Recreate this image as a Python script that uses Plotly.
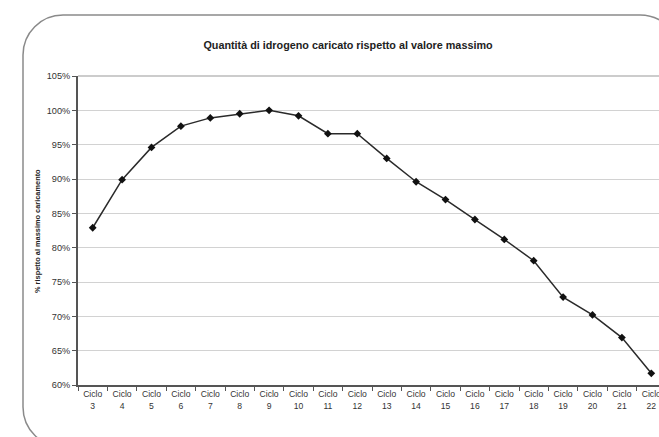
import plotly.graph_objects as go

# Cycle labels and hydrogen loaded, as % of the maximum load
cicli = ["3", "4", "5", "6", "7", "8", "9", "10", "11", "12",
         "13", "14", "15", "16", "17", "18", "19", "20", "21", "22"]
percentuali = [82.9, 89.9, 94.6, 97.7, 98.9, 99.5, 100.0, 99.2, 96.6, 96.6,
               93.0, 89.6, 87.0, 84.1, 81.2, 78.1, 72.8, 70.2, 66.9, 61.7]
y_ticks = [60, 65, 70, 75, 80, 85, 90, 95, 100, 105]
y_labels = ["60%", "65%", "70%", "75%", "80%", "85%", "90%", "95%", "100%", "105%"]

categorie = ["Ciclo<br>" + c for c in cicli]

W, H = 659, 437
L, T, B, R = 78, 76, 385, 659          # plot area edges in pixels
FONT = "Liberation Sans, Arial, sans-serif"


def fx(px):
    return (px - L) / (R - L)


def fy(py):
    return (B - py) / (B - T)


fig = go.Figure()
fig.add_trace(go.Scatter(
    x=categorie, y=percentuali, mode="lines+markers",
    line=dict(color="#2a2a2a", width=1.5),
    marker=dict(symbol="diamond", size=6, color="#111111"),
    hoverinfo="x+y", showlegend=False,
))

# rounded frame around the chart
fl, ft, fr, fb, rad = 23, 15, 680, 447, 40
k = 0.5523 * rad
pts = [
    ("M", [(fl + rad, ft)]),
    ("L", [(fr - rad, ft)]),
    ("C", [(fr - rad + k, ft), (fr, ft + rad - k), (fr, ft + rad)]),
    ("L", [(fr, fb - rad)]),
    ("C", [(fr, fb - rad + k), (fr - rad + k, fb), (fr - rad, fb)]),
    ("L", [(fl + rad, fb)]),
    ("C", [(fl + rad - k, fb), (fl, fb - rad + k), (fl, fb - rad)]),
    ("L", [(fl, ft + rad)]),
    ("C", [(fl, ft + rad - k), (fl + rad - k, ft), (fl + rad, ft)]),
]
path = ""
for cmd, coords in pts:
    path += cmd + " ".join(f"{fx(x):.5f},{fy(y):.5f}" for x, y in coords) + " "
path += "Z"

fig.add_shape(type="path", path=path, xref="paper", yref="paper",
              line=dict(color="#8a8a8a", width=1.5), layer="above")
# top border of the plot area
fig.add_shape(type="line", xref="paper", yref="paper", x0=0, x1=1.05, y0=1, y1=1,
              line=dict(color="#9a9a9a", width=1.2), layer="above")

fig.add_annotation(
    text="<b>% rispetto al massimo caricamento</b>", textangle=-90,
    xref="paper", yref="paper", x=fx(38), y=fy(231),
    xanchor="center", yanchor="middle", showarrow=False,
    font=dict(family=FONT, size=7.4, color="#222222"),
)

fig.update_layout(
    width=W, height=H,
    margin=dict(l=L, r=W - R, t=T, b=H - B, autoexpand=False),
    paper_bgcolor="white", plot_bgcolor="white",
    title=dict(text="<b>Quantità di idrogeno caricato rispetto al valore massimo</b>",
               x=348 / W, xref="container", xanchor="center",
               y=1 - 45 / H, yref="container", yanchor="middle",
               font=dict(family=FONT, size=10.8, color="#222222")),
    xaxis=dict(
        type="category", range=[-0.5, (R - L) / 29.4 - 0.5],
        showline=True, linecolor="#555555", linewidth=2,
        ticks="outside", ticklen=4, tickcolor="#555555", tickwidth=1,
        tickson="boundaries", showgrid=False, automargin=False,
        tickfont=dict(family=FONT, size=8.6, color="#333333"),
        zeroline=False, fixedrange=True,
    ),
    yaxis=dict(
        range=[60, 105], tickvals=y_ticks, ticktext=y_labels,
        showline=True, linecolor="#555555", linewidth=2,
        ticks="outside", ticklen=4, tickcolor="#555555", tickwidth=1,
        showgrid=True, gridcolor="#d2d2d2", gridwidth=1,
        tickfont=dict(family=FONT, size=9.2, color="#333333"),
        zeroline=False, automargin=False, fixedrange=True,
    ),
)

fig.write_html("out.html")
